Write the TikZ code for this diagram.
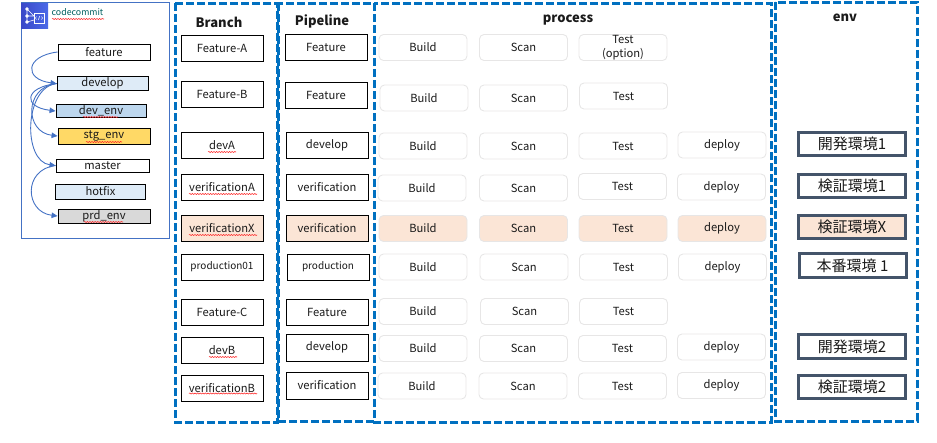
\documentclass[tikz,border=0pt]{standalone}
\usepackage{fontspec}
\setmainfont{Noto Sans CJK JP}
\usetikzlibrary{arrows.meta,calc,decorations.pathmorphing}
\definecolor{Ink}{HTML}{1A1A1A}
\definecolor{Frame}{HTML}{0070C0}
\definecolor{Slate}{HTML}{44546A}
\definecolor{Edge}{HTML}{E7E6E6}
\definecolor{Peach}{HTML}{FBE5D6}
\definecolor{Arc}{HTML}{4472C4}
\definecolor{IconDark}{HTML}{3A48C8}
\definecolor{IconLight}{HTML}{4B6AE8}
\definecolor{PaleBlue}{HTML}{DEEBF7}
\definecolor{MidBlue}{HTML}{BDD7EE}
\definecolor{Gold}{HTML}{FFD966}
\definecolor{Silver}{HTML}{D9D9D9}
\tikzset{
  frame/.style={draw=Frame,line width=3pt,dash pattern=on 8pt off 3pt},
  title/.style={font=\fontsize{13}{15}\selectfont\bfseries,text=Ink},
  branchbox/.style={draw=black,line width=.9pt,minimum width=82pt,minimum height=26pt,inner sep=0pt,text=Ink},
  stagebox/.style={draw=Edge,line width=.9pt,rounded corners=4.5pt,minimum width=88pt,minimum height=26pt,inner sep=0pt,align=center,text=Ink},
  stagehot/.style={stagebox,fill=Peach},
  envbox/.style={draw=Slate,line width=3pt,minimum width=107pt,minimum height=23.5pt,inner sep=0pt,text=Ink,font=\fontsize{15}{17}\selectfont},
  gitbox/.style={draw=black,line width=.9pt,inner sep=0pt,text=Ink},
  arc/.style={-{Triangle[length=6pt,width=5.5pt]},draw=Arc,line width=.9pt,out=187,in=173,distance=33pt},
  spell/.style={draw=red!85!white,line width=.55pt,decorate,decoration={snake,amplitude=.55pt,segment length=2.6pt}}
}
\begin{document}
\begin{tikzpicture}[x=1pt,y=-1pt,font=\fontsize{11.2}{14}\selectfont]
  \useasboundingbox (0,0) rectangle (937,442);

  % repository panel
  \node[draw=Arc,line width=.9pt,minimum width=148pt,minimum height=236pt,inner sep=0pt] (repo) at (95.5,120.5) {};
  \shade[left color=IconDark,right color=IconLight] (21,3) rectangle (48,28);
  \draw[white,line width=.6pt] (27,9)--(27,22) (27,9)--(34,16) (27,16)--(34,16) (27,22)--(34,20);
  \draw[white,line width=.6pt,fill=white] (27,9) circle (1.4) (27,16) circle (1.4) (27,22) circle (1.4);
  \draw[white,line width=.6pt] (34,13) rectangle (44,23);
  \draw[white,line width=.5pt] (36.5,16.5)--(35.5,18)--(36.5,19.5) (41.5,16.5)--(42.5,18)--(41.5,19.5) (39.7,16)--(38.3,20);
  \node[text=teal!75!black,font=\fontsize{8.8}{11}\selectfont] (repotitle) at (77.5,12.5) {codecommit};
  \draw[spell] (52,19)--(104,19);

  \node[gitbox,minimum width=92pt,minimum height=16pt] (feature) at (104,52) {feature};
  \node[gitbox,fill=PaleBlue,minimum width=91pt,minimum height=13.5pt] (develop) at (102.5,83.5) {develop};
  \node[gitbox,fill=MidBlue,minimum width=90pt,minimum height=12.5pt] (devenv) at (101,111) {dev\_env};
  \node[gitbox,fill=Gold,minimum width=92pt,minimum height=16pt] (stgenv) at (104,136) {stg\_env};
  \node[gitbox,minimum width=93pt,minimum height=13pt] (master) at (102.5,165.5) {master};
  \node[gitbox,fill=PaleBlue,minimum width=90pt,minimum height=15pt] (hotfix) at (100.5,191.5) {hotfix};
  \node[gitbox,fill=Silver,minimum width=92pt,minimum height=14pt] (prdenv) at (104,216) {prd\_env};
  \draw[spell] (83,117)--(118,117);
  \draw[spell] (86,142)--(122,142);
  \draw[spell] (84,222)--(123,222);

  \draw[arc] (feature.west) to (develop.west);
  \draw[arc] (develop.west) to (devenv.west);
  \draw[arc] (develop.west) to (stgenv.west);
  \draw[arc] (develop.west) to (master.west);
  \draw[arc] (master.west) to (prdenv.west);

  % dashed columns
  \draw[frame] (175,3) rectangle (277,422);
  \draw[frame] (278,3) rectangle (374,421);
  \draw[frame] (374,3) rectangle (771,422);
  \draw[frame] (775,2) rectangle (917,421);
  \node[title] (branchtitle) at (219,22) {Branch};
  \node[title] (pipetitle) at (322,21) {Pipeline};
  \node[title] (proctitle) at (568,20) {process};
  \node[title] (envtitle) at (845,18) {env};

  % branches
  \node[branchbox] (brA) at (222,48) {Feature-A};
  \node[branchbox] (brB) at (222,94) {Feature-B};
  \node[branchbox] (brdevA) at (222,145) {devA};
  \node[branchbox] (brverA) at (222,187) {verificationA};
  \node[branchbox,fill=Peach] (brverX) at (222,228) {verificationX};
  \node[branchbox,font=\fontsize{10}{14}\selectfont] (brprod) at (222,267) {production01};
  \node[branchbox] (brC) at (222,312) {Feature-C};
  \node[branchbox] (brdevB) at (222,350) {devB};
  \node[branchbox] (brverB) at (222,388) {verificationB};
  \draw[spell] (208,152)--(236,152);
  \draw[spell] (189,194)--(257,194);
  \draw[spell] (189,235)--(257,235);
  \draw[spell] (209,357)--(237,357);
  \draw[spell] (189,393.5)--(257,393.5);

  % pipelines
  \node[branchbox] (pipeA) at (326,47.5) {Feature};
  \node[branchbox] (pipeB) at (326,95) {Feature};
  \node[branchbox] (pipedevA) at (327,145) {develop};
  \node[branchbox] (pipeverA) at (327,187) {verification};
  \node[branchbox,fill=Peach] (pipeverX) at (327,228) {verification};
  \node[branchbox,font=\fontsize{10}{14}\selectfont] (pipeprod) at (328,267) {production};
  \node[branchbox] (pipeC) at (327,312) {Feature};
  \node[branchbox,minimum height=27pt] (pipedevB) at (327,347.5) {develop};
  \node[branchbox,minimum height=27pt] (pipeverB) at (327,385.5) {verification};

  % build
  \node[stagebox] (buildA) at (423,47.5) {Build};
  \node[stagebox] (buildB) at (424,98) {Build};
  \node[stagebox] (builddevA) at (423,146) {Build};
  \node[stagebox] (buildverA) at (422,188) {Build};
  \node[stagehot] (buildverX) at (423,228.5) {Build};
  \node[stagebox] (buildprod) at (423,267) {Build};
  \node[stagebox] (buildC) at (423,311.5) {Build};
  \node[stagebox] (builddevB) at (423,348.5) {Build};
  \node[stagebox] (buildverB) at (422,386) {Build};

  % scan
  \node[stagebox] (scanA) at (523.5,47.5) {Scan};
  \node[stagebox] (scanB) at (523.5,98) {Scan};
  \node[stagebox] (scandevA) at (523.5,146) {Scan};
  \node[stagebox] (scanverA) at (523.5,188) {Scan};
  \node[stagehot] (scanverX) at (523.5,228.5) {Scan};
  \node[stagebox] (scanprod) at (524,267) {Scan};
  \node[stagebox] (scanC) at (524.5,311.5) {Scan};
  \node[stagebox] (scandevB) at (523.5,348.5) {Scan};
  \node[stagebox] (scanverB) at (523,386) {Scan};

  % test
  \node[stagebox] (testA) at (623,47.5) {Test\\(option)};
  \node[stagebox] (testB) at (623.5,96) {Test};
  \node[stagebox] (testdevA) at (623,146) {Test};
  \node[stagebox] (testverA) at (622.5,186.5) {Test};
  \node[stagehot] (testverX) at (623,228.5) {Test};
  \node[stagebox] (testprod) at (623.5,267) {Test};
  \node[stagebox] (testC) at (623.5,311.5) {Test};
  \node[stagebox] (testdevB) at (622.5,348.5) {Test};
  \node[stagebox] (testverB) at (622.5,386) {Test};

  % deploy
  \node[stagebox] (depdevA) at (722,145) {deploy};
  \node[stagebox] (depverA) at (721.5,187) {deploy};
  \node[stagehot] (depverX) at (722,228.5) {deploy};
  \node[stagebox] (depprod) at (722.5,267) {deploy};
  \node[stagebox] (depdevB) at (721.5,347) {deploy};
  \node[stagebox] (depverB) at (721.5,385.5) {deploy};

  % environments
  \node[envbox] (envdevA) at (852,144) {開発環境1};
  \node[envbox] (envverA) at (852,186) {検証環境1};
  \node[envbox,fill=Peach] (envverX) at (852,227) {検証環境X};
  \node[envbox] (envprod) at (852.5,265.5) {本番環境 1};
  \node[envbox] (envdevB) at (852,346.5) {開発環境2};
  \node[envbox] (envverB) at (852,387) {検証環境2};
\end{tikzpicture}
\end{document}
